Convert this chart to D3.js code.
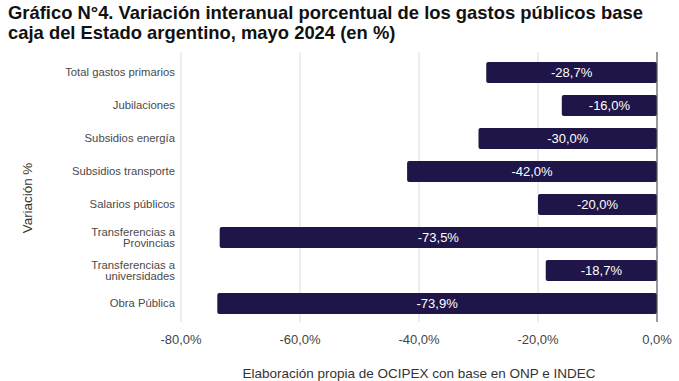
<!DOCTYPE html>
<html>
<head>
<meta charset="utf-8">
<script src="https://cdn.jsdelivr.net/npm/d3@7"></script>
<style>
  body { margin: 0; background: #fff; }
  svg { font-family: "Liberation Sans", Arial, sans-serif; }
</style>
</head>
<body>
<svg id="chart" width="679" height="381"></svg>
<script>
const categories = [
  "Total gastos primarios",
  "Jubilaciones",
  "Subsidios energía",
  "Subsidios transporte",
  "Salarios públicos",
  "Transferencias a\nProvincias",
  "Transferencias a\nuniversidades",
  "Obra Pública"
];
const values = [-28.7, -16.0, -30.0, -42.0, -20.0, -73.5, -18.7, -73.9];
const ticks = [-80, -60, -40, -20, 0];

const width = 679, height = 381;
const margin = { top: 56, right: 22, bottom: 61, left: 181 };

const svg = d3.select("#chart");
const fmt = v => d3.format(".1f")(v).replace(".", ",").replace("−", "-") + "%";

// title
const title = svg.append("text")
  .attr("x", 8)
  .attr("font-size", 18.4)
  .attr("font-weight", "bold")
  .attr("fill", "#111");
title.append("tspan").attr("x", 8).attr("y", 19)
  .text("Gráfico N°4. Variación interanual porcentual de los gastos públicos base");
title.append("tspan").attr("x", 8).attr("y", 39)
  .text("caja del Estado argentino, mayo 2024 (en %)");

const x = d3.scaleLinear()
  .domain([-80, 0])
  .range([margin.left, width - margin.right]);

const y = d3.scaleBand()
  .domain(categories)
  .range([margin.top, height - margin.bottom])
  .paddingInner(0.36)
  .paddingOuter(0.18);

// gridlines
svg.append("g")
  .selectAll("line")
  .data(ticks.filter(t => t !== 0))
  .join("line")
  .attr("x1", d => x(d)).attr("x2", d => x(d))
  .attr("y1", 52).attr("y2", 322)
  .attr("stroke", "#dcdcdc")
  .attr("stroke-width", 1);

// bars
const rows = categories.map((c, i) => ({ c, v: values[i] }));

svg.append("g")
  .selectAll("rect")
  .data(rows)
  .join("rect")
  .attr("x", d => x(d.v))
  .attr("y", d => y(d.c))
  .attr("width", d => x(0) - x(d.v))
  .attr("height", y.bandwidth())
  .attr("rx", 2)
  .attr("fill", "#1f1548");

svg.append("g")
  .selectAll("text")
  .data(rows)
  .join("text")
  .attr("x", d => (x(d.v) + x(0)) / 2)
  .attr("y", d => y(d.c) + y.bandwidth() / 2)
  .attr("dy", "0.36em")
  .attr("text-anchor", "middle")
  .attr("font-size", 13)
  .attr("fill", "#fff")
  .text(d => fmt(d.v));

// zero line
svg.append("line")
  .attr("x1", x(0)).attr("x2", x(0))
  .attr("y1", 52).attr("y2", 322)
  .attr("stroke", "#555")
  .attr("stroke-width", 1.2);

// category labels
const catLabels = svg.append("g")
  .selectAll("text")
  .data(categories)
  .join("text")
  .attr("text-anchor", "end")
  .attr("font-size", 11.3)
  .attr("fill", "#4a4a4a");
catLabels.each(function (d) {
  const lines = d.split("\n");
  const cy = y(d) + y.bandwidth() / 2;
  const lh = 11.5;
  lines.forEach((l, i) => {
    d3.select(this).append("tspan")
      .attr("x", 175)
      .attr("y", cy + (i - (lines.length - 1) / 2) * lh)
      .attr("dy", "0.35em")
      .text(l);
  });
});

// tick labels
svg.append("g")
  .selectAll("text")
  .data(ticks)
  .join("text")
  .attr("x", d => x(d))
  .attr("y", 344)
  .attr("text-anchor", "middle")
  .attr("font-size", 13)
  .attr("fill", "#444")
  .text(d => fmt(d));

// y axis title
svg.append("text")
  .attr("transform", "translate(32,198) rotate(-90)")
  .attr("text-anchor", "middle")
  .attr("font-size", 13.4)
  .attr("fill", "#333")
  .text("Variación %");

// source caption
svg.append("text")
  .attr("x", (x(-80) + x(0)) / 2)
  .attr("y", 378)
  .attr("text-anchor", "middle")
  .attr("font-size", 13.5)
  .attr("fill", "#333")
  .text("Elaboración propia de OCIPEX con base en ONP e INDEC");
</script>
</body>
</html>
